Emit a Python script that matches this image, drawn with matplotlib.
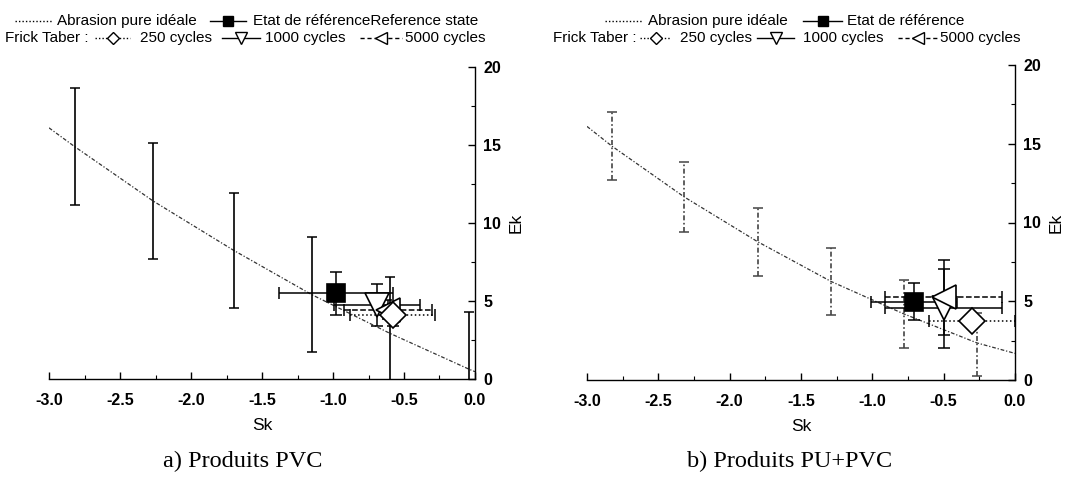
import matplotlib
matplotlib.use("Agg")
import matplotlib.pyplot as plt
from matplotlib.lines import Line2D
from matplotlib.ticker import MultipleLocator, FormatStrFormatter

plt.rcParams['font.family'] = ['Liberation Sans', 'DejaVu Sans']

W, H = 1073, 483

# ---------------- data : a) Produits PVC ----------------
pvc_curve_sk = [-3.0, -2.82, -2.265, -1.70, -1.148, -0.60, -0.04, 0.0]
pvc_curve_ek = [16.1, 14.9, 11.4, 8.25, 5.4, 2.93, 0.62, 0.47]
pvc_bar_sk = [-2.82, -2.265, -1.70, -1.148, -0.60, -0.04]
pvc_bar_ek = [14.9, 11.4, 8.25, 5.4, 2.93, 0.62]
pvc_bar_err = [3.74, 3.73, 3.70, 3.68, 3.59, 3.70]

pvc_ref = dict(sk=-0.98, ek=5.5, xerr=0.40, yerr=1.39)
pvc_c250 = dict(sk=-0.58, ek=4.1, xerr=0.30, yerr=0.7)
pvc_c1000 = dict(sk=-0.69, ek=4.75, xerr=0.30, yerr=1.37)
pvc_c5000 = dict(sk=-0.61, ek=4.45, xerr=0.31, yerr=0.6)

# ---------------- data : b) Produits PU+PVC ----------------
pu_curve_sk = [-3.0, -2.827, -2.318, -1.804, -1.29, -0.78, -0.265, 0.0]
pu_curve_ek = [16.1, 14.86, 11.62, 8.78, 6.26, 4.2, 2.35, 1.69]
pu_bar_sk = [-2.827, -2.318, -1.804, -1.29, -0.78, -0.265]
pu_bar_ek = [14.86, 11.62, 8.78, 6.26, 4.2, 2.25]
pu_bar_err = [2.15, 2.2, 2.16, 2.13, 2.14, 2.0]

pu_ref = dict(sk=-0.71, ek=4.97, xerr=0.30, yerr=1.17)
pu_c250 = dict(sk=-0.30, ek=3.77, xerr=0.30, yerr=0.4)
pu_c1000 = dict(sk=-0.50, ek=4.55, xerr=0.41, yerr=2.5)
pu_c5000 = dict(sk=-0.50, ek=5.25, xerr=0.41, yerr=2.4)

x_ticks = [-3.0, -2.5, -2.0, -1.5, -1.0, -0.5, 0.0]
y_ticks = [0, 5, 10, 15, 20]

fig = plt.figure(figsize=(W / 100, H / 100), dpi=100)


def ax_rect(x0, x1, ytop, ybot):
    return [x0 / W, 1 - ybot / H, (x1 - x0) / W, (ybot - ytop) / H]


DASHDOT = (0, (3, 1.5, 1, 1.5))


def eb(ax, d, marker, ms, ls, filled=False):
    line, caps, bars = ax.errorbar([d['sk']], [d['ek']], xerr=[d['xerr']], yerr=[d['yerr']],
                                   fmt='none', ecolor='black', elinewidth=1.1,
                                   capsize=4, capthick=1.1, zorder=3)
    bars[0].set_linestyle(ls)
    ax.plot([d['sk']], [d['ek']], marker=marker, ms=ms, ls='none',
            mfc='black' if filled else 'white', mec='black', mew=1.2, zorder=5)


def panel(rect, curve_sk, curve_ek, bar_sk, bar_ek, bar_err, bar_ls, bar_color,
          ref, c250, c1000, c5000):
    ax = fig.add_axes(rect)
    ax.plot(curve_sk, curve_ek, color='#333333', lw=0.9, ls=DASHDOT, zorder=2)
    line, caps, bars = ax.errorbar(bar_sk, bar_ek, yerr=bar_err, fmt='none',
                                   ecolor=bar_color, elinewidth=1.2, capsize=3.5,
                                   capthick=1.1, zorder=2)
    bars[0].set_linestyle(bar_ls)
    eb(ax, c1000, 'v', 17, '-')
    eb(ax, c5000, '<', 17, '--')
    eb(ax, c250, 'D', 13, ':')
    eb(ax, ref, 's', 12.5, '-', filled=True)
    ax.set_xlim(-3.0, 0.0)
    ax.set_ylim(0, 20)
    for s in ('top', 'left'):
        ax.spines[s].set_visible(False)
    for s in ('bottom', 'right'):
        ax.spines[s].set_linewidth(1.0)
    ax.yaxis.tick_right()
    ax.yaxis.set_label_position('right')
    ax.set_xticks(x_ticks)
    ax.set_yticks(y_ticks)
    ax.xaxis.set_minor_locator(MultipleLocator(0.25))
    ax.yaxis.set_minor_locator(MultipleLocator(2.5))
    ax.xaxis.set_major_formatter(FormatStrFormatter('%.1f'))
    ax.tick_params(which='major', direction='in', length=5, width=1.0,
                   labelsize=11.5, pad=6)
    ax.tick_params(axis='x', which='major', pad=10)
    ax.tick_params(which='minor', direction='in', length=3, width=0.8)
    for t in ax.get_xticklabels() + ax.get_yticklabels():
        t.set_fontweight('bold')
    ax.set_xlabel('Sk', fontsize=12.5, labelpad=7)
    ax.set_ylabel('Ek', fontsize=12.5, rotation=90, labelpad=5)
    ax.patch.set_alpha(0)
    return ax


axL = panel(ax_rect(49, 475, 67, 379), pvc_curve_sk, pvc_curve_ek,
            pvc_bar_sk, pvc_bar_ek, pvc_bar_err, '-', 'black',
            pvc_ref, pvc_c250, pvc_c1000, pvc_c5000)
axR = panel(ax_rect(587, 1015, 65, 380), pu_curve_sk, pu_curve_ek,
            pu_bar_sk, pu_bar_ek, pu_bar_err, DASHDOT, '#444444',
            pu_ref, pu_c250, pu_c1000, pu_c5000)


# ---------------- legends (figure pixel coordinates) ----------------
def fx(x):
    return x / W


def fy(y):
    return 1 - y / H


def sample(x0, x1, y, ls, marker=None, ms=6, filled=False):
    fig.add_artist(Line2D([fx(x0), fx(x1)], [fy(y), fy(y)], transform=fig.transFigure,
                          color='black', lw=1.0, ls=ls))
    if marker:
        xm = (x0 + x1) / 2
        fig.add_artist(Line2D([fx(xm)], [fy(y)], transform=fig.transFigure,
                              marker=marker, ms=ms, mfc='black' if filled else 'white',
                              mec='black', mew=1.0, ls='none'))


def label(x, y, s):
    fig.text(fx(x), fy(y), s, fontsize=11, ha='left', va='center')


DOT = (0, (1, 1.5))
DASH = (0, (3, 2))

# left legend
r1, r2 = 21, 38
sample(15, 52, r1, DOT)
label(57, r1, 'Abrasion pure idéale')
sample(210, 246, r1, '-', 's', 6.5, filled=True)
label(253, r1, 'Etat de référenceReference state')
label(5, r2, 'Frick Taber :')
sample(95, 130, r2, DOT, 'D', 6.5)
label(140, r2, '250 cycles')
sample(222, 260, r2, '-', 'v', 8)
label(265, r2, '1000 cycles')
sample(360, 402, r2, DASH, '<', 8)
label(405, r2, '5000 cycles')

# right legend
sample(605, 642, r1, DOT)
label(648, r1, 'Abrasion pure idéale')
sample(803, 842, r1, '-', 's', 6.5, filled=True)
label(847, r1, 'Etat de référence')
label(553, r2, 'Frick Taber :')
sample(640, 671, r2, DOT, 'D', 6.5)
label(680, r2, '250 cycles')
sample(757, 794, r2, '-', 'v', 8)
label(803, r2, '1000 cycles')
sample(898, 938, r2, DASH, '<', 8)
label(940, r2, '5000 cycles')

# captions
fig.text(fx(243), fy(461), 'a) Produits PVC', fontsize=17.5, ha='center', va='center',
         family=['Liberation Serif', 'DejaVu Serif'])
fig.text(fx(790), fy(461), 'b) Produits PU+PVC', fontsize=17.5, ha='center', va='center',
         family=['Liberation Serif', 'DejaVu Serif'])

fig.savefig('out.png', dpi=100)
